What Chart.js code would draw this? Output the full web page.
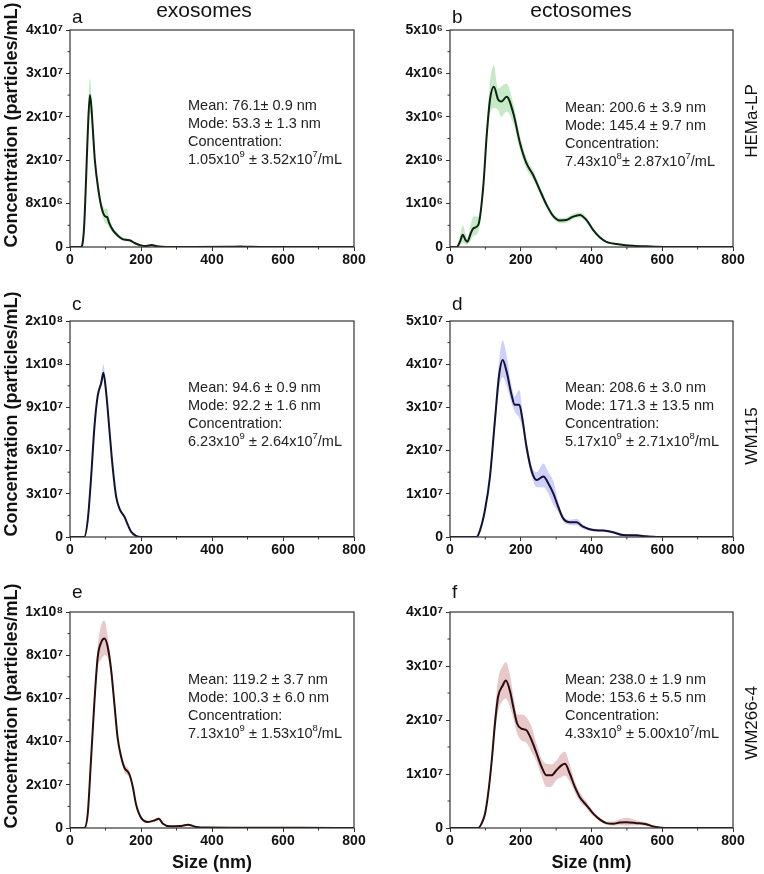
<!DOCTYPE html>
<html>
<head>
<meta charset="utf-8">
<script src="https://cdn.jsdelivr.net/npm/chart.js@4.4.1/dist/chart.umd.min.js"></script>
<style>
  body { margin: 0; background: #fff; font-family: "Liberation Sans", Arial, sans-serif; }
  #fig { position: relative; width: 764px; height: 874px; overflow: hidden; }
  .box { position: absolute; }
  .txt { position: absolute; white-space: nowrap; color: #111; }
  .letter { font-size: 19px; line-height: 19px; }
  .head { font-size: 21px; line-height: 21px; transform: translateX(-50%); }
  .row { font-size: 17px; line-height: 17px; transform: translate(-50%, -50%) rotate(-90deg); }
  .ytitle { font-size: 18px; line-height: 18px; font-weight: bold; transform: translate(-50%, -50%) rotate(-90deg); }
  .stats { position: absolute; font-size: 14.5px; line-height: 18px; color: #222; white-space: nowrap; }
  .stats sup { font-size: 9.5px; line-height: 0; position: relative; top: -1px; }
</style>
</head>
<body>
<div id="fig">
  <div class="box" style="left:0;top:0;width:380px;height:270px"><canvas id="ca"></canvas></div>
  <div class="box" style="left:380px;top:0;width:384px;height:270px"><canvas id="cb"></canvas></div>
  <div class="box" style="left:0;top:270px;width:380px;height:290px"><canvas id="cc"></canvas></div>
  <div class="box" style="left:380px;top:270px;width:384px;height:290px"><canvas id="cd"></canvas></div>
  <div class="box" style="left:0;top:560px;width:380px;height:314px"><canvas id="ce"></canvas></div>
  <div class="box" style="left:380px;top:560px;width:384px;height:314px"><canvas id="cf"></canvas></div>

  <div class="txt head" style="left:204px;top:-1px">exosomes</div>
  <div class="txt head" style="left:581px;top:-1px">ectosomes</div>

  <div class="txt letter" style="left:72px;top:7px">a</div>
  <div class="txt letter" style="left:452px;top:7px">b</div>
  <div class="txt letter" style="left:72px;top:294px">c</div>
  <div class="txt letter" style="left:452px;top:294px">d</div>
  <div class="txt letter" style="left:72px;top:582px">e</div>
  <div class="txt letter" style="left:452px;top:582px">f</div>

  <div class="txt row" style="left:751px;top:121px">HEMa-LP</div>
  <div class="txt row" style="left:751px;top:436px">WM115</div>
  <div class="txt row" style="left:751px;top:723px">WM266-4</div>

  <div class="txt ytitle" style="left:11px;top:125px">Concentration (particles/mL)</div>
  <div class="txt ytitle" style="left:11px;top:414px">Concentration (particles/mL)</div>
  <div class="txt ytitle" style="left:11px;top:706px">Concentration (particles/mL)</div>

  <div class="stats" style="left:188px;top:96px">Mean: 76.1± 0.9 nm<br>Mode: 53.3 ± 1.3 nm<br>Concentration:<br>1.05x10<sup>9</sup> ± 3.52x10<sup>7</sup>/mL</div>
  <div class="stats" style="left:565px;top:98px">Mean: 200.6 ± 3.9 nm<br>Mode: 145.4 ± 9.7 nm<br>Concentration:<br>7.43x10<sup>8</sup>± 2.87x10<sup>7</sup>/mL</div>
  <div class="stats" style="left:188px;top:378px">Mean: 94.6 ± 0.9 nm<br>Mode: 92.2 ± 1.6 nm<br>Concentration:<br>6.23x10<sup>9</sup> ± 2.64x10<sup>7</sup>/mL</div>
  <div class="stats" style="left:565px;top:378px">Mean: 208.6 ± 3.0 nm<br>Mode: 171.3 ± 13.5 nm<br>Concentration:<br>5.17x10<sup>9</sup> ± 2.71x10<sup>8</sup>/mL</div>
  <div class="stats" style="left:188px;top:670px">Mean: 119.2 ± 3.7 nm<br>Mode: 100.3 ± 6.0 nm<br>Concentration:<br>7.13x10<sup>9</sup> ± 1.53x10<sup>8</sup>/mL</div>
  <div class="stats" style="left:565px;top:670px">Mean: 238.0 ± 1.9 nm<br>Mode: 153.6 ± 5.5 nm<br>Concentration:<br>4.33x10<sup>9</sup> ± 5.00x10<sup>7</sup>/mL</div>
</div>

<script>
// ---- data (size in nm, concentration in particles/mL) ----

// a: HEMa-LP exosomes
const sizeA  = [0, 30, 35, 40, 45, 50, 56, 60, 65, 70, 80, 90, 100, 105, 110, 120, 130, 140, 150, 160, 170, 180, 190, 200, 215, 230, 245, 260, 280, 350, 450, 480, 500, 550, 800];
const meanA  = [0, 0, 0.5e6, 4e6, 12e6, 21e6, 28e6, 26e6, 21e6, 16e6, 10.5e6, 7e6, 5.6e6, 5.5e6, 4.5e6, 3.2e6, 2.4e6, 1.8e6, 1.4e6, 1.3e6, 1.2e6, 0.8e6, 0.5e6, 0.3e6, 0.2e6, 0.35e6, 0.15e6, 0.05e6, 0, 0, 0.05e6, 0.08e6, 0.05e6, 0, 0];
const upperA = [0, 0, 0.7e6, 5e6, 14e6, 24e6, 31e6, 28.5e6, 22.5e6, 17e6, 11.5e6, 8e6, 7e6, 7.1e6, 5.5e6, 3.7e6, 2.8e6, 2.1e6, 1.7e6, 1.6e6, 1.4e6, 1.0e6, 0.7e6, 0.45e6, 0.3e6, 0.5e6, 0.25e6, 0.1e6, 0, 0, 0.1e6, 0.12e6, 0.08e6, 0, 0];
const lowerA = [0, 0, 0.3e6, 3e6, 10e6, 18e6, 25e6, 23.5e6, 19.5e6, 15e6, 9.5e6, 6e6, 4.4e6, 4.2e6, 3.6e6, 2.7e6, 2.0e6, 1.5e6, 1.1e6, 1.0e6, 1.0e6, 0.6e6, 0.3e6, 0.15e6, 0.1e6, 0.2e6, 0.05e6, 0, 0, 0, 0, 0.04e6, 0.02e6, 0, 0];

// b: HEMa-LP ectosomes
const sizeB  = [0, 19, 28, 36, 44, 49, 58, 66, 80, 94, 104, 113, 124, 136, 145, 160, 179, 198, 216, 235, 254, 273, 292, 311, 329, 348, 367, 386, 405, 424, 442, 480, 518, 555, 612, 700, 800];
const meanB  = [0, 0, 0.12e6, 0.28e6, 0.16e6, 0.12e6, 0.3e6, 0.43e6, 0.51e6, 1.39e6, 2.6e6, 3.39e6, 3.69e6, 3.4e6, 3.35e6, 3.46e6, 3.08e6, 2.39e6, 1.93e6, 1.66e6, 1.31e6, 0.97e6, 0.71e6, 0.61e6, 0.62e6, 0.7e6, 0.74e6, 0.62e6, 0.39e6, 0.22e6, 0.12e6, 0.06e6, 0.03e6, 0.015e6, 0, 0, 0];
const upperB = [0, 0, 0.25e6, 0.5e6, 0.3e6, 0.2e6, 0.5e6, 0.7e6, 0.7e6, 1.5e6, 2.8e6, 3.8e6, 4.19e6, 3.65e6, 3.7e6, 3.77e6, 3.3e6, 2.55e6, 2.05e6, 1.76e6, 1.4e6, 1.04e6, 0.77e6, 0.67e6, 0.68e6, 0.76e6, 0.8e6, 0.68e6, 0.43e6, 0.25e6, 0.14e6, 0.07e6, 0.035e6, 0.02e6, 0, 0, 0];
const lowerB = [0, 0, 0.04e6, 0.1e6, 0.06e6, 0.06e6, 0.15e6, 0.25e6, 0.35e6, 1.25e6, 2.4e6, 3.05e6, 3.2e6, 3.15e6, 3.0e6, 3.12e6, 2.85e6, 2.23e6, 1.8e6, 1.56e6, 1.22e6, 0.9e6, 0.65e6, 0.55e6, 0.56e6, 0.64e6, 0.68e6, 0.56e6, 0.35e6, 0.19e6, 0.1e6, 0.05e6, 0.025e6, 0.01e6, 0, 0, 0];

// c: WM115 exosomes
const sizeC  = [0, 40, 50, 59, 69, 78, 88, 94, 102, 111, 120, 130, 141, 153, 163, 172, 186, 200, 800];
const meanC  = [0, 0, 11.8e6, 39.7e6, 77e6, 98e6, 107e6, 114e6, 100e6, 74.5e6, 49e6, 28e6, 18.8e6, 14.2e6, 8.4e6, 3.7e6, 0.7e6, 0, 0];
const upperC = [0, 0, 12.8e6, 41.5e6, 79e6, 100e6, 110e6, 120e6, 103e6, 77e6, 51e6, 29.5e6, 20e6, 15.4e6, 9.2e6, 4.2e6, 0.9e6, 0, 0];
const lowerC = [0, 0, 10.8e6, 38e6, 75e6, 96e6, 104e6, 110e6, 97e6, 72e6, 47e6, 26.5e6, 17.6e6, 13e6, 7.6e6, 3.2e6, 0.5e6, 0, 0];

// d: WM115 ectosomes
const sizeD  = [0, 75, 85, 99, 113, 127, 139, 149, 160, 174, 183, 196, 205, 216, 231, 245, 264, 278, 292, 306, 320, 339, 358, 376, 405, 433, 461, 489, 527, 555, 584, 800];
const meanD  = [0, 0, 1.6e6, 6.3e6, 14e6, 27e6, 37.6e6, 41e6, 38.3e6, 32.9e6, 30.6e6, 30.6e6, 27.1e6, 21e6, 15.2e6, 13.2e6, 14e6, 12.4e6, 10.1e6, 7e6, 4.3e6, 3.4e6, 3.4e6, 2.4e6, 1.6e6, 1.5e6, 1.1e6, 0.46e6, 0.39e6, 0.15e6, 0, 0];
const upperD = [0, 0, 1.9e6, 7e6, 15e6, 29e6, 41e6, 45.5e6, 42e6, 35e6, 32.5e6, 34e6, 29e6, 22.5e6, 16.5e6, 15e6, 17e6, 15e6, 13e6, 8.3e6, 5e6, 4e6, 4.2e6, 2.9e6, 1.9e6, 1.8e6, 1.4e6, 0.7e6, 0.6e6, 0.3e6, 0, 0];
const lowerD = [0, 0, 1.3e6, 5.6e6, 13e6, 25e6, 34.5e6, 37e6, 35e6, 31e6, 29e6, 27.5e6, 25e6, 19.5e6, 14e6, 11.5e6, 11.5e6, 10e6, 7.5e6, 5.8e6, 3.6e6, 2.8e6, 2.7e6, 1.9e6, 1.3e6, 1.2e6, 0.8e6, 0.25e6, 0.2e6, 0.05e6, 0, 0];

// e: WM266-4 exosomes
const sizeE  = [0, 40, 50, 59, 69, 78, 88, 97, 106, 116, 125, 134, 144, 153, 167, 177, 186, 200, 219, 238, 250, 262, 280, 309, 332, 356, 384, 460, 650, 800];
const meanE  = [0, 0, 6.6e6, 31e6, 59e6, 79e6, 86e6, 87.7e6, 84e6, 73e6, 57.6e6, 42e6, 33e6, 28e6, 25e6, 19e6, 11e6, 4.8e6, 2.8e6, 3.5e6, 4.3e6, 2e6, 0.8e6, 0.9e6, 1.5e6, 0.5e6, 0.2e6, 0.15e6, 0.1e6, 0];
const upperE = [0, 0, 7.5e6, 33e6, 62e6, 84e6, 94e6, 96e6, 89e6, 76e6, 60e6, 43.5e6, 34e6, 30e6, 26.5e6, 20e6, 12e6, 5.3e6, 3.1e6, 4e6, 5e6, 2.3e6, 1e6, 1.1e6, 1.8e6, 0.7e6, 0.3e6, 0.25e6, 0.2e6, 0];
const lowerE = [0, 0, 5.7e6, 29e6, 56e6, 74e6, 78e6, 80e6, 79e6, 70e6, 55e6, 40.5e6, 32e6, 26e6, 23.5e6, 18e6, 10e6, 4.3e6, 2.5e6, 3e6, 3.6e6, 1.7e6, 0.6e6, 0.7e6, 1.2e6, 0.3e6, 0.1e6, 0.05e6, 0, 0];

// f: WM266-4 ectosomes
const sizeF  = [0, 80, 89, 99, 108, 118, 127, 136, 149, 158, 169, 179, 190, 202, 216, 231, 245, 259, 273, 287, 301, 315, 325, 339, 353, 367, 386, 405, 424, 442, 461, 480, 499, 527, 555, 574, 598, 650, 800];
const meanF  = [0, 0, 0.8e6, 2.65e6, 6.4e6, 12.5e6, 19.3e6, 24.3e6, 26.4e6, 27.3e6, 25.5e6, 22.4e6, 19.3e6, 18.4e6, 18.1e6, 16.2e6, 13.8e6, 11.3e6, 9.75e6, 9.75e6, 10.7e6, 11.6e6, 11.9e6, 10e6, 7.6e6, 5.7e6, 4.2e6, 2.65e6, 1.54e6, 0.9e6, 0.8e6, 1e6, 1.05e6, 0.9e6, 0.7e6, 0.3e6, 0.06e6, 0, 0];
const upperF = [0, 0, 0.9e6, 3e6, 7e6, 13.8e6, 21.5e6, 27.5e6, 30e6, 30.7e6, 28.5e6, 24.5e6, 21e6, 21e6, 20.5e6, 18.7e6, 15.5e6, 12.8e6, 11.9e6, 11.8e6, 12.5e6, 13.8e6, 14.1e6, 11.6e6, 8.6e6, 6.6e6, 4.8e6, 3.1e6, 1.9e6, 1.2e6, 1.2e6, 1.6e6, 1.9e6, 1.4e6, 1.0e6, 0.5e6, 0.1e6, 0, 0];
const lowerF = [0, 0, 0.7e6, 2.3e6, 5.8e6, 11.2e6, 17.3e6, 21.5e6, 23.6e6, 24e6, 22.5e6, 20.3e6, 17.5e6, 16.2e6, 15.8e6, 14e6, 12.2e6, 9.5e6, 7.6e6, 7.7e6, 8.9e6, 9.4e6, 9.7e6, 8.5e6, 6.6e6, 4.9e6, 3.6e6, 2.2e6, 1.2e6, 0.6e6, 0.4e6, 0.5e6, 0.4e6, 0.5e6, 0.4e6, 0.1e6, 0.02e6, 0, 0];

// y tick labels as printed on each panel
const yLabelsA = ['0', '8x10⁶', '2x10⁷', '2x10⁷', '3x10⁷', '4x10⁷'];
const yLabelsB = ['0', '1x10⁶', '2x10⁶', '3x10⁶', '4x10⁶', '5x10⁶'];
const yLabelsC = ['0', '3x10⁷', '6x10⁷', '9x10⁷', '1x10⁸', '2x10⁸'];
const yLabelsD = ['0', '1x10⁷', '2x10⁷', '3x10⁷', '4x10⁷', '5x10⁷'];
const yLabelsE = ['0', '2x10⁷', '4x10⁷', '6x10⁷', '8x10⁷', '1x10⁸'];
const yLabelsF = ['0', '1x10⁷', '2x10⁷', '3x10⁷', '4x10⁷'];
const xMinorTicks = [100, 300, 500, 700];

const FONT = '"Liberation Sans", Arial, sans-serif';

// frame around the plot + short minor ticks
const frameAndMinor = {
  id: 'frameAndMinor',
  afterDraw(chart) {
    const { ctx, chartArea: a, scales: { x, y } } = chart;
    ctx.save();
    ctx.strokeStyle = '#333';
    ctx.lineWidth = 1.2;
    ctx.strokeRect(a.left, a.top, a.right - a.left, a.bottom - a.top);
    ctx.lineWidth = 1;
    ctx.beginPath();
    xMinorTicks.forEach(v => {
      const px = x.getPixelForValue(v);
      ctx.moveTo(px, a.bottom);
      ctx.lineTo(px, a.bottom + 2.5);
    });
    const t = y.ticks;
    for (let i = 0; i < t.length - 1; i++) {
      const py = y.getPixelForValue((t[i].value + t[i + 1].value) / 2);
      ctx.moveTo(a.left - 2.5, py);
      ctx.lineTo(a.left, py);
    }
    ctx.stroke();
    ctx.restore();
  }
};

function panel(id, size, mean, upper, lower, yMax, yStep, yLabels, band, line, padTop, xHeight, showXTitle) {
  const pts = arr => size.map((s, i) => ({ x: s, y: arr[i] }));
  const rightPad = (id === 'ca' || id === 'cc' || id === 'ce') ? 26 : 31;
  new Chart(document.getElementById(id), {
    type: 'line',
    data: {
      datasets: [
        // mean line first so it is drawn on top of the band
        { data: pts(mean), borderColor: line, borderWidth: 2, pointRadius: 0, fill: false, cubicInterpolationMode: 'monotone' },
        { data: pts(upper), borderWidth: 0, pointRadius: 0, backgroundColor: band, fill: '+1', cubicInterpolationMode: 'monotone' },
        { data: pts(lower), borderWidth: 0, pointRadius: 0, fill: false, cubicInterpolationMode: 'monotone' }
      ]
    },
    options: {
      responsive: true,
      maintainAspectRatio: false,
      animation: false,
      layout: { padding: { top: padTop, right: rightPad, bottom: 0, left: 0 } },
      plugins: { legend: { display: false }, tooltip: { enabled: false } },
      scales: {
        x: {
          type: 'linear', min: 0, max: 800,
          ticks: { stepSize: 200, color: '#111', padding: 1, font: { family: FONT, size: 14, weight: 'bold' } },
          grid: { drawOnChartArea: false, drawTicks: true, tickLength: 4, color: '#333' },
          border: { display: false },
          title: { display: showXTitle, text: 'Size (nm)', color: '#111', padding: 0, font: { family: FONT, size: 18, weight: 'bold' } },
          afterFit: s => { s.height = xHeight; }
        },
        y: {
          min: 0, max: yMax,
          ticks: { stepSize: yStep, autoSkip: false, color: '#111', padding: 3, font: { family: FONT, size: 14, weight: 'bold' },
                   callback: (v, i) => yLabels[i] },
          grid: { drawOnChartArea: false, drawTicks: true, tickLength: 4, color: '#333' },
          border: { display: false },
          afterFit: s => { s.width = 70; }
        }
      }
    },
    plugins: [frameAndMinor]
  });
}

const GREEN = 'rgba(120, 205, 120, 0.42)', BLUE = 'rgba(140, 140, 245, 0.42)', RED = 'rgba(200, 125, 125, 0.42)';
panel('ca', sizeA, meanA, upperA, lowerA, 4e7, 8e6, yLabelsA, GREEN, '#0b2410', 30, 23, false);
panel('cb', sizeB, meanB, upperB, lowerB, 5e6, 1e6, yLabelsB, GREEN, '#0b2410', 30, 23, false);
panel('cc', sizeC, meanC, upperC, lowerC, 1.5e8, 3e7, yLabelsC, BLUE, '#121236', 51, 23, false);
panel('cd', sizeD, meanD, upperD, lowerD, 5e7, 1e7, yLabelsD, BLUE, '#121236', 51, 23, false);
panel('ce', sizeE, meanE, upperE, lowerE, 1e8, 2e7, yLabelsE, RED, '#2a0d0d', 52, 46, true);
panel('cf', sizeF, meanF, upperF, lowerF, 4e7, 1e7, yLabelsF, RED, '#2a0d0d', 52, 46, true);
</script>
</body>
</html>
